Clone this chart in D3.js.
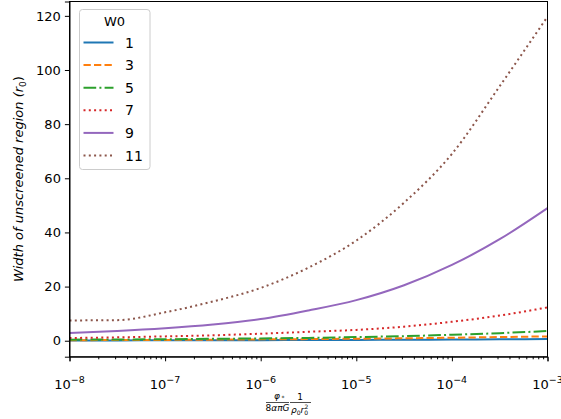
<!DOCTYPE html>
<html>
<head>
<meta charset="utf-8">
<script src="https://cdn.jsdelivr.net/npm/d3@7"></script>
<style>
  body { margin: 0; background: #fff; }
  text { font-family: "DejaVu Sans", sans-serif; fill: #000; }
</style>
</head>
<body>
<svg id="chart" width="561" height="419"></svg>
<script>
// x values: half-decade steps from 1e-8 to 1e-3
var xValues = [1e-8, 3.16e-8, 1e-7, 3.16e-7, 1e-6, 3.16e-6, 1e-5, 3.16e-5, 1e-4, 3.16e-4, 1e-3];

// width of unscreened region, one array per W0
var w1  = [0.1, 0.12, 0.15, 0.18, 0.2, 0.25, 0.3, 0.35, 0.42, 0.5, 0.6];
var w3  = [0.2, 0.25, 0.3, 0.4, 0.5, 0.6, 0.75, 0.9, 1.1, 1.35, 1.6];
var w5  = [0.4, 0.45, 0.55, 0.7, 0.85, 1.05, 1.35, 1.7, 2.2, 2.8, 3.6];
var w7  = [1.0, 1.25, 1.6, 2.0, 2.6, 3.3, 4.0, 5.2, 7.0, 9.3, 12.3];
var w9  = [2.9, 3.6, 4.6, 6.0, 8.0, 11.2, 15, 20.5, 28, 37.5, 49];
var w11 = [7.5, 7.6, 10.5, 14.5, 19.5, 27, 37, 51, 69, 94, 119.7];

var seriesNames = ["1", "3", "5", "7", "9", "11"];
var seriesValues = [w1, w3, w5, w7, w9, w11];
var seriesColors = ["#1f77b4", "#ff7f0e", "#2ca02c", "#d62728", "#9467bd", "#8c564b"];
var seriesDash = [null, "7.3,3.2", "12.7,3.2,2,3.2", "2,3.3", null, "2,3.3"];

var xTickPowers = [-8, -7, -6, -5, -4, -3];
var yTicks = [0, 20, 40, 60, 80, 100, 120];

var margin = {left: 69.5, right: 547.5, top: 1.5, bottom: 356.7};

var svg = d3.select("#chart");

var xScale = d3.scaleLog()
    .domain([1e-8, 1e-3])
    .range([margin.left, margin.right]);

var yScale = d3.scaleLinear()
    .domain([-5.9, 125.3])
    .range([margin.bottom, margin.top]);

var dataset = seriesNames.map(function(name, i) {
    return {
        name: name,
        color: seriesColors[i],
        dash: seriesDash[i],
        points: xValues.map(function(x, j) { return {x: x, y: seriesValues[i][j]}; })
    };
});

var line = d3.line()
    .x(function(d) { return xScale(d.x); })
    .y(function(d) { return yScale(d.y); })
    .curve(d3.curveMonotoneX);

// clip to the axes box
svg.append("clipPath")
    .attr("id", "plotClip")
    .append("rect")
    .attr("x", margin.left)
    .attr("y", margin.top)
    .attr("width", margin.right - margin.left)
    .attr("height", margin.bottom - margin.top);

svg.append("g")
    .attr("clip-path", "url(#plotClip)")
    .selectAll("path")
    .data(dataset)
    .enter()
    .append("path")
    .attr("d", function(d) { return line(d.points); })
    .attr("fill", "none")
    .attr("stroke", function(d) { return d.color; })
    .attr("stroke-width", 2)
    .attr("stroke-dasharray", function(d) { return d.dash; });

// x axis: major ticks with 10^n labels, minor ticks 2..9
var xAxis = d3.axisBottom(xScale)
    .tickValues(xTickPowers.map(function(p) { return Math.pow(10, p); }))
    .tickSize(4.6)
    .tickFormat("");

var minorTicks = [];
xTickPowers.slice(0, -1).forEach(function(p) {
    for (var k = 2; k <= 9; k++) minorTicks.push(k * Math.pow(10, p));
});

var xMinor = d3.axisBottom(xScale)
    .tickValues(minorTicks)
    .tickSize(2.6)
    .tickFormat("");

svg.append("g")
    .attr("transform", "translate(0," + margin.bottom + ")")
    .call(xAxis);
svg.append("g")
    .attr("transform", "translate(0," + margin.bottom + ")")
    .call(xMinor)
    .select(".domain").remove();

xTickPowers.forEach(function(p) {
    var t = svg.append("text")
        .attr("x", xScale(Math.pow(10, p)))
        .attr("y", 389)
        .attr("text-anchor", "middle")
        .attr("font-size", "13px");
    t.append("tspan").text("10");
    t.append("tspan")
        .attr("dy", -6.5)
        .attr("font-size", "9.5px")
        .text("\u2212" + Math.abs(p));
});

// y axis
var yAxis = d3.axisLeft(yScale)
    .tickValues(yTicks)
    .tickSize(4.6)
    .tickPadding(4)
    .tickFormat(d3.format("d"));

svg.append("g")
    .attr("transform", "translate(" + margin.left + ",0)")
    .call(yAxis)
    .selectAll("text")
    .attr("font-size", "13px")
    .attr("font-family", "DejaVu Sans, sans-serif")
    .attr("fill", "#000");

// right and top spines
svg.append("rect")
    .attr("x", margin.left)
    .attr("y", margin.top)
    .attr("width", margin.right - margin.left)
    .attr("height", margin.bottom - margin.top)
    .attr("fill", "none")
    .attr("stroke", "#000")
    .attr("stroke-width", 1);

svg.selectAll(".domain").attr("stroke-width", 1);
svg.selectAll(".tick line").attr("stroke-width", 1);

// y label
var ylab = svg.append("text")
    .attr("transform", "translate(23," + ((margin.top + margin.bottom) / 2) + ") rotate(-90)")
    .attr("text-anchor", "middle")
    .attr("font-size", "13px")
    .attr("font-style", "italic");
ylab.append("tspan").text("Width of unscreened region (");
ylab.append("tspan").text("r");
ylab.append("tspan").attr("dy", 3).attr("font-size", "9px").attr("font-style", "normal").text("0");
ylab.append("tspan").attr("dy", -3).attr("font-style", "normal").text(")");

// x label: two small fractions
var xl = svg.append("g").attr("font-size", "9px");
xl.append("text").attr("x", 277).attr("y", 399).attr("text-anchor", "middle")
    .attr("font-style", "italic").text("\u03c6");
xl.append("text").attr("x", 281.5).attr("y", 400).attr("font-size", "6px").text("*");
xl.append("line").attr("x1", 266).attr("x2", 289).attr("y1", 402.5).attr("y2", 402.5)
    .attr("stroke", "#000").attr("stroke-width", 0.7);
xl.append("text").attr("x", 277.5).attr("y", 411).attr("text-anchor", "middle")
    .text("8").append("tspan").attr("font-style", "italic").text("\u03b1\u03c0G");
xl.append("text").attr("x", 300).attr("y", 400).attr("text-anchor", "middle").text("1");
xl.append("line").attr("x1", 290).attr("x2", 311).attr("y1", 402.5).attr("y2", 402.5)
    .attr("stroke", "#000").attr("stroke-width", 0.7);
var den = xl.append("text").attr("x", 291).attr("y", 413).attr("font-style", "italic");
den.append("tspan").text("\u03c1");
den.append("tspan").attr("font-size", "6px").attr("font-style", "normal").attr("dy", 2).text("0");
den.append("tspan").attr("dy", -2).text("r");
den.append("tspan").attr("font-size", "6px").attr("font-style", "normal").attr("dy", 2).text("0");
den.append("tspan").attr("font-size", "6px").attr("font-style", "normal").attr("dx", -3.5).attr("dy", -6).text("2");

// legend
var legend = svg.append("g");
legend.append("rect")
    .attr("x", 79.5)
    .attr("y", 9.5)
    .attr("width", 70.5)
    .attr("height", 160)
    .attr("rx", 3)
    .attr("fill", "#fff")
    .attr("fill-opacity", 0.8)
    .attr("stroke", "#cccccc")
    .attr("stroke-width", 1);

legend.append("text")
    .attr("x", 114.5)
    .attr("y", 26)
    .attr("text-anchor", "middle")
    .attr("font-size", "13px")
    .text("W0");

var items = legend.selectAll("g.item")
    .data(dataset)
    .enter()
    .append("g")
    .attr("class", "item")
    .attr("transform", function(d, i) { return "translate(0," + (42.5 + i * 22.6) + ")"; });

items.append("line")
    .attr("x1", 83.5)
    .attr("x2", 113.5)
    .attr("stroke", function(d) { return d.color; })
    .attr("stroke-width", 2)
    .attr("stroke-dasharray", function(d) { return d.dash; });

items.append("text")
    .attr("x", 125)
    .attr("dy", "0.36em")
    .attr("font-size", "14px")
    .text(function(d) { return d.name; });
</script>
</body>
</html>
